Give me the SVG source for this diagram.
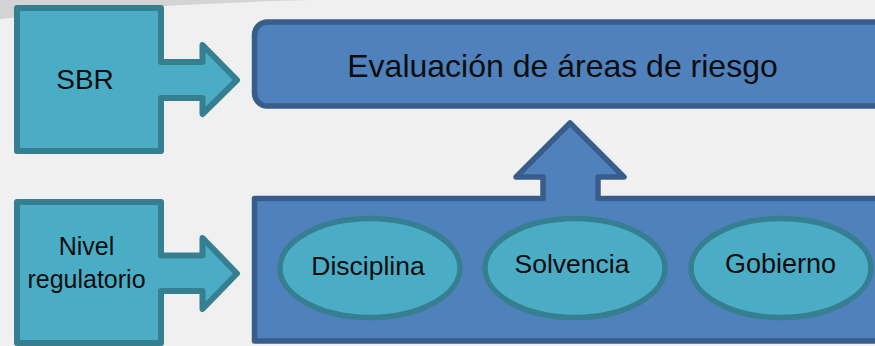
<svg xmlns="http://www.w3.org/2000/svg" width="875" height="346" viewBox="0 0 875 346">
<style>
.bg{fill:#F0F0F0}
.arc{fill:#D3D4D6}
.teal{fill:#4BACC6;stroke:#357F91;stroke-width:6;stroke-linejoin:round}
.blue{fill:#4F81BD;stroke:#385D8A;stroke-width:5.5;stroke-linejoin:round}
.oval{fill:#4BACC6;stroke:#357F91;stroke-width:5.5}
text{font-family:"Liberation Sans",Arial,sans-serif;fill:#0D0D0D;text-anchor:middle}
</style>
<rect class="bg" x="0" y="0" width="875" height="346"/>
<path class="arc" d="M0,0 H310 Q150,4 0,19 Z"/>
<g id="connectors"/>
<g id="sbr">
<path class="teal" d="M17,8 H161 V62 H202.5 V45 L237,80 L202.5,114 V98 H161 V151 H17 Z"/>
<text x="85" y="89" font-size="28">SBR</text>
</g>
<g id="nivel">
<path class="teal" d="M17,202 H161 V255.5 H202.5 V238 L237,273.5 L202.5,309 V291 H161 V343 H17 Z"/>
<text x="86.5" y="255" font-size="25">Nivel</text>
<text x="86.5" y="288" font-size="25">regulatorio</text>
</g>
<g id="evaluacion">
<rect class="blue" x="254.5" y="22" width="640" height="84" rx="13"/>
<text x="562.5" y="77" font-size="32">Evaluación de áreas de riesgo</text>
</g>
<g id="areas">
<path class="blue" d="M254.5,198.5 H543 V177 H516 L570,123 L624,177 H598 V198.5 H895 V341 H254.5 Z"/>
</g>
<g id="disciplina">
<ellipse class="oval" cx="370" cy="268" rx="90" ry="49.5"/>
<text x="368" y="275" font-size="26.5">Disciplina</text>
</g>
<g id="solvencia">
<ellipse class="oval" cx="575" cy="268" rx="90" ry="49.5"/>
<text x="572" y="273" font-size="26.5">Solvencia</text>
</g>
<g id="gobierno">
<ellipse class="oval" cx="781" cy="268" rx="90" ry="49.5"/>
<text x="780.5" y="273" font-size="27">Gobierno</text>
</g>
</svg>
